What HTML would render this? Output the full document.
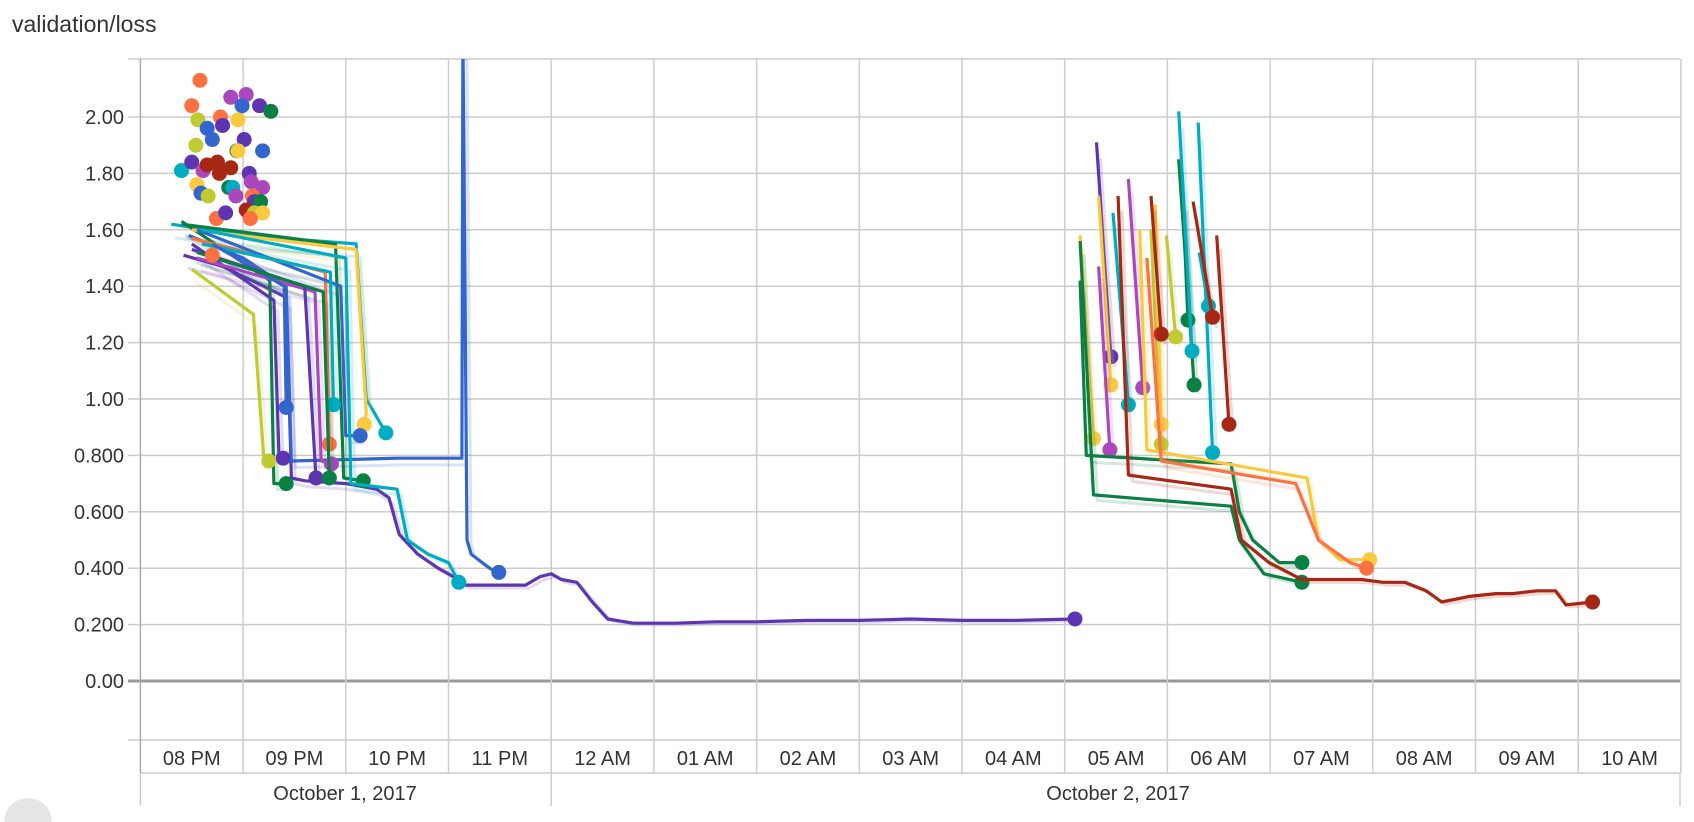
<!DOCTYPE html>
<html><head><meta charset="utf-8"><style>
html,body{margin:0;padding:0;background:#fff;width:1694px;height:822px;overflow:hidden;font-family:"Liberation Sans",sans-serif}
svg{display:block}
svg text{font-family:"Liberation Sans",sans-serif;fill:#333}
</style></head><body>
<svg id="chart" width="1694" height="822" viewBox="0 0 1694 822" xmlns="http://www.w3.org/2000/svg">
<defs><clipPath id="plotclip"><rect x="140" y="59" width="1540" height="681"/></clipPath></defs>
<text x="12" y="32" font-size="23">validation/loss</text>
<g id="grid"></g>
<g id="axes"></g>
<g id="series" clip-path="url(#plotclip)"></g>
<path d="M4,822 A24,24 0 0 1 52,822 Z" fill="#e6e6e6"/>
</svg>
<script>
// hours since 8 PM Oct 1, 2017
const hourLabels=["08 PM","09 PM","10 PM","11 PM","12 AM","01 AM","02 AM","03 AM","04 AM","05 AM","06 AM","07 AM","08 AM","09 AM","10 AM"];
const yTicks=[0,0.2,0.4,0.6,0.8,1.0,1.2,1.4,1.6,1.8,2.0];
const yTickLabels=["0.00","0.200","0.400","0.600","0.800","1.00","1.20","1.40","1.60","1.80","2.00"];
const dateLabels=["October 1, 2017","October 2, 2017"];
const C={orange:"#ff7043",teal:"#00acc1",yellow:"#f9c940",green:"#0b8043",lime:"#c0ca33",purple:"#5e35b1",magenta:"#ab47bc",blue:"#3366cc",red:"#a52714"};
const runColors=["purple","blue","teal","green","green","yellow","orange","blue","purple","magenta","lime","teal","blue","teal","purple","green",
"purple","teal","yellow","magenta","magenta","lime","yellow","lime","red","green","green","teal","teal","teal","red","red","yellow",
"green","green","red","yellow","orange"];
const runTimes=[
[0.42,0.8,1.2,1.42,1.47,1.6,2.0,2.3,2.42,2.52,2.7,2.9,3.05,3.16,3.5,3.75,3.89,4.0,4.1,4.25,4.4,4.55,4.8,5.2,5.6,6,6.5,7,7.5,8,8.5,9.1],
[0.47,1.0,1.42,1.47,2.5,3.13,3.14,3.18,3.22,3.4,3.49],
[0.3,1.0,2.1,2.2,2.39],
[0.4,1.26,1.3,1.42],
[0.4,1.9,1.98,2.17],
[0.5,2.1,2.2,2.18],
[0.5,1.8,1.84],
[0.55,1.95,2.0,2.14],
[0.5,1.3,1.35,1.39],
[0.55,1.7,1.76,1.86],
[0.5,1.1,1.2,1.25],
[0.6,1.85,1.88],
[0.7,1.4,1.42],
[0.6,2.0,2.05,2.5,2.6,2.8,3.0,3.1],
[0.5,1.6,1.71],
[0.55,1.78,1.84],
[9.31,9.45],[9.47,9.62],[9.33,9.45],[9.33,9.44],[9.62,9.76],[9.84,9.94],[9.88,9.94],[9.99,10.08],[9.84,9.94],[10.11,10.26],[10.15,10.2],[10.11,10.24],[10.3,10.44],[10.31,10.4],[10.25,10.44],[10.48,10.6],[9.15,9.28],
[9.15,9.21,10.62,10.7,10.83,11.09,11.31],
[9.15,9.28,10.62,10.7,10.94,11.31],
[9.52,9.62,10.62,10.72,10.99,11.31,11.6,11.89,12.1,12.31,12.52,12.67,12.94,13.2,13.36,13.6,13.78,13.88,14.14],
[9.73,9.8,11.36,11.47,11.68,11.97],
[9.8,9.94,11.25,11.47,11.78,11.94]];
const runValues=[
[1.51,1.47,1.40,1.36,0.72,0.71,0.70,0.68,0.65,0.52,0.45,0.40,0.37,0.34,0.34,0.34,0.37,0.38,0.36,0.35,0.28,0.22,0.205,0.205,0.21,0.21,0.215,0.215,0.22,0.215,0.215,0.22],
[1.58,1.50,1.40,0.78,0.79,0.79,2.3,0.5,0.45,0.40,0.385],
[1.62,1.58,1.55,1.0,0.88],
[1.63,1.42,0.70,0.70],
[1.62,1.55,0.72,0.71],
[1.60,1.53,0.95,0.91],
[1.57,1.45,0.84],
[1.60,1.40,0.87,0.87],
[1.55,1.35,0.80,0.79],
[1.50,1.38,0.78,0.77],
[1.46,1.30,0.80,0.78],
[1.55,1.45,0.98],
[1.55,1.40,0.97],
[1.60,1.50,0.70,0.68,0.50,0.45,0.42,0.35],
[1.53,1.40,0.72],
[1.52,1.38,0.72],
[1.91,1.15],[1.66,0.98],[1.72,1.05],[1.47,0.82],[1.78,1.04],[1.60,0.84],[1.69,0.91],[1.58,1.22],[1.72,1.23],[1.85,1.05],[1.72,1.28],[2.02,1.17],[1.98,0.81],[1.52,1.33],[1.70,1.29],[1.58,0.91],[1.58,0.86],
[1.42,0.80,0.77,0.60,0.50,0.42,0.42],
[1.56,0.66,0.62,0.50,0.38,0.35],
[1.72,0.73,0.68,0.50,0.42,0.36,0.36,0.36,0.35,0.35,0.32,0.28,0.30,0.31,0.31,0.32,0.32,0.27,0.28],
[1.60,0.82,0.72,0.50,0.43,0.43],
[1.50,0.78,0.70,0.50,0.42,0.40]];
const dotColors=["orange","orange","lime","orange","magenta","magenta","blue","purple","green","blue","blue","purple","yellow","purple","green","lime","teal","purple","magenta","red","red","red","red","yellow","blue","purple","yellow","blue","lime","green","teal","magenta","magenta","magenta","orange","purple","green","red","lime","yellow","orange","purple","orange","orange"];
const dotTimes=[0.58,0.50,0.56,0.78,0.88,1.03,0.99,1.16,1.27,0.65,0.70,0.80,0.95,1.01,0.94,0.54,0.40,0.50,0.61,0.65,0.75,0.77,0.88,0.95,1.19,1.06,0.55,0.59,0.66,0.86,0.90,1.08,1.19,0.93,1.09,1.11,1.17,1.03,1.11,1.19,0.74,0.83,1.07,0.70];
const dotValues=[2.13,2.04,1.99,2.00,2.07,2.08,2.04,2.04,2.02,1.96,1.92,1.97,1.99,1.92,1.88,1.90,1.81,1.84,1.81,1.83,1.84,1.80,1.82,1.88,1.88,1.80,1.76,1.73,1.72,1.75,1.75,1.77,1.75,1.72,1.72,1.70,1.70,1.67,1.66,1.66,1.64,1.66,1.64,1.51];

const NS="http://www.w3.org/2000/svg";
const X0=140.4,HW=102.7,Y0=681,PY=282;
const xs=t=>X0+t*HW, ys=v=>Y0-v*PY;
function mk(tag,attrs,parent){const e=document.createElementNS(NS,tag);for(const k in attrs)e.setAttribute(k,attrs[k]);parent.appendChild(e);return e;}
const grid=document.getElementById('grid'),axes=document.getElementById('axes'),series=document.getElementById('series');
const TOP=59,BOT=740,RIGHT=1680;
yTicks.forEach((v,i)=>{
 const l=mk('line',{x1:128,x2:RIGHT,y1:ys(v),y2:ys(v),stroke:v===0?'#999':'#ccc','stroke-width':v===0?3:1.5},grid);
 
 
 const t=mk('text',{x:124,y:ys(v)+7,'text-anchor':'end','font-size':20},axes);
 
 
 t.textContent=yTickLabels[i];
});
mk('line',{x1:128,x2:RIGHT,y1:TOP,y2:TOP,stroke:'#ccc','stroke-width':1.5},grid);
mk('line',{x1:128,x2:RIGHT,y1:BOT,y2:BOT,stroke:'#ccc','stroke-width':1.5},grid);
mk('line',{x1:X0,x2:RIGHT,y1:773,y2:773,stroke:'#ccc','stroke-width':1.5},grid);
for(let i=0;i<=hourLabels.length;i++){
 const x=xs(i);
 const l=mk('line',{x1:x,x2:x,y1:TOP,y2:773,stroke:i===0?'#aaa':'#ccc','stroke-width':1.5},grid);
 
 
 if(i<hourLabels.length){
  const t=mk('text',{x:x+HW/2,y:765,'text-anchor':'middle','font-size':20},axes);
  
  
  t.textContent=hourLabels[i];
 }
}
[[0,345],[4,1118]].forEach((r,i)=>{
 mk('line',{x1:xs(r[0]),x2:xs(r[0]),y1:773,y2:806,stroke:'#ccc','stroke-width':1.5},grid);
 const t=mk('text',{x:r[1],y:800,'text-anchor':'middle','font-size':20},axes);
 
 
 t.textContent=dateLabels[i];
});
mk('line',{x1:RIGHT,x2:RIGHT,y1:773,y2:806,stroke:'#ccc','stroke-width':1.5},grid);
runTimes.forEach((ts,i)=>{
 const col=C[runColors[i]];
 const pts=ts.map((t,j)=>xs(t).toFixed(1)+','+ys(runValues[i][j]).toFixed(1)).join(' ');
 const bg=mk('polyline',{points:ts.map((t,j)=>(xs(t)+4).toFixed(1)+','+ys(runValues[i][j]*0.97).toFixed(1)).join(' '),fill:'none',stroke:col,'stroke-opacity':0.18,'stroke-width':3},series);
 
 
 const pl=mk('polyline',{points:pts,fill:'none',stroke:col,'stroke-width':3.2,'stroke-linejoin':'round'},series);
 
 
 const n=ts.length-1;
 const c=mk('circle',{cx:xs(ts[n]),cy:ys(runValues[i][n]),r:7.5,fill:col},series);
 
 
});
dotTimes.forEach((t,i)=>{
 const c=mk('circle',{cx:xs(t),cy:ys(dotValues[i]),r:7.5,fill:C[dotColors[i]]},series);
 
 
});
</script>
</body></html>
